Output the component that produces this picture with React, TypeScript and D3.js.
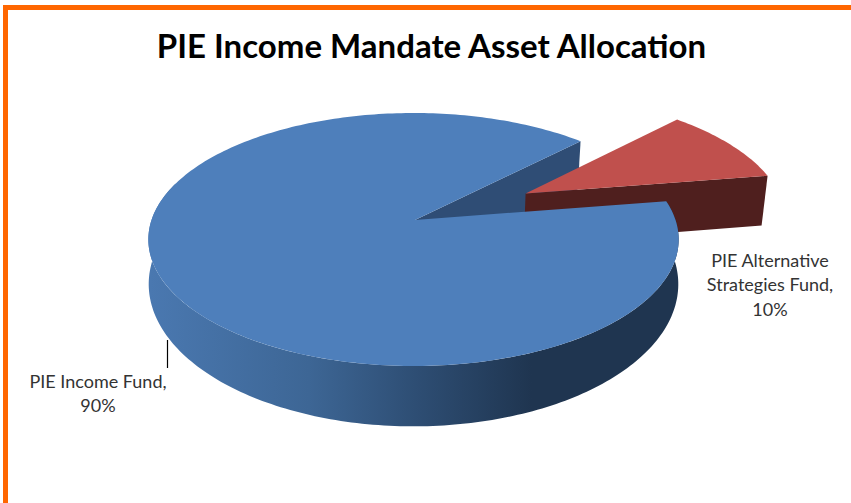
import * as d3 from "d3";

const categories = ["PIE Alternative Strategies Fund", "PIE Income Fund"];
const values = [10, 90];
const explode = [0.49, 0];
const title = "PIE Income Mandate Asset Allocation";

const width = 851;
const height = 503;
const font = "Lato, 'Open Sans', sans-serif";

// planes of the pie, fitted by eye to the picture
const cx = 415;
const R = 262;
const rimShift = -1.5; // the big slice's rim sits a bit left of its apex
const topPlane = { y0: 220, b: 89.6, s: 1, k: 0.154 };
// underside seen on the radial cut faces
const cutPlane = { y0: 272, b: 88, s: 0.983, k: 0.154 };
// underside seen along the round outer wall
const rimPlane = { y0: 279, b: 132, s: 1.01, k: 0.036 };
type Plane = typeof topPlane;
type Pt = [number, number];

const project = (plane: Plane, u: number, v: number): Pt => {
  const d = 1 - plane.k * v;
  return [cx + (R * plane.s * u) / d, (plane.y0 + plane.b * v) / d];
};

// angle 0 is at the back of the pie, going clockwise like d3.pie
const pie = d3
  .pie<number>()
  .value((d) => d)
  .sort(null)
  .startAngle(Math.PI / 4)
  .endAngle(Math.PI / 4 + 2 * Math.PI);

const arcs = pie(values);
const line = d3.line();

function offset(i: number): [number, number] {
  const b = (arcs[i].startAngle + arcs[i].endAngle) / 2;
  return [explode[i] * Math.sin(b), -explode[i] * Math.cos(b)];
}

function at(plane: Plane, i: number, a: number): Pt {
  const [ox, oy] = offset(i);
  const [x, y] = project(plane, ox + Math.sin(a), oy - Math.cos(a));
  return [explode[i] ? x : x + rimShift, y];
}

function pts(plane: Plane, i: number, a0: number, a1: number): Pt[] {
  const n = Math.max(2, Math.ceil((a1 - a0) / 0.02));
  return d3.range(n + 1).map((j) => at(plane, i, a0 + ((a1 - a0) * j) / n));
}

function apex(plane: Plane, i: number): Pt {
  const [ox, oy] = offset(i);
  return project(plane, ox, oy);
}

export default function App() {
  const alt = arcs[0];
  const inc = arcs[1];

  const altTop = [apex(topPlane, 0), ...pts(topPlane, 0, alt.startAngle, alt.endAngle)];
  const altWall: Pt[] = [
    apex(topPlane, 0),
    at(topPlane, 0, alt.endAngle),
    at(cutPlane, 0, alt.endAngle),
    apex(cutPlane, 0),
  ];

  const incTop = [apex(topPlane, 1), ...pts(topPlane, 1, inc.startAngle, inc.endAngle)];
  const incWall: Pt[] = [
    apex(topPlane, 1),
    at(topPlane, 1, inc.endAngle),
    at(cutPlane, 1, inc.endAngle),
    apex(cutPlane, 1),
  ];

  const sideEnd = inc.startAngle + Math.PI * 1.15;
  const incSide: Pt[] = [
    ...pts(topPlane, 1, inc.startAngle, sideEnd),
    ...pts(rimPlane, 1, inc.startAngle, sideEnd).reverse(),
  ];

  return (
    <svg
      width={width}
      height={height}
      style={{ position: "absolute", left: 0, top: 0, background: "#fff" }}
    >
      <defs>
        <linearGradient id="side" gradientUnits="userSpaceOnUse" x1={150} x2={680} y1={0} y2={0}>
          <stop offset="0" stopColor="#4a78b0" />
          <stop offset="0.3" stopColor="#3d6695" />
          <stop offset="0.5" stopColor="#2e4e74" />
          <stop offset="0.72" stopColor="#1f3550" />
          <stop offset="1" stopColor="#1f3550" />
        </linearGradient>
      </defs>

      {/* orange frame, no bottom or right side */}
      <path d={`M5.5,${height}V7.5H${width}`} fill="none" stroke="#ff6600" strokeWidth={5} />

      <text
        x={431.5}
        y={58}
        textAnchor="middle"
        fontFamily={font}
        fontWeight={700}
        fontSize={33}
        fill="#000"
      >
        {title}
      </text>

      <path d={line(incWall)! + "Z"} fill="#2f4d75" />
      <path d={line(altWall)! + "Z"} fill="#4f1f1e" />
      <path d={line(altTop)! + "Z"} fill="#c0504d" />
      <path d={line(incSide)! + "Z"} fill="url(#side)" />
      <path d={line(incTop)! + "Z"} fill="#4e7fbb" />

      <line x1={167.5} x2={167.5} y1={340} y2={368} stroke="#000" strokeWidth={1.2} />

      <g fontFamily={font} fontSize={18} fill="#333" textAnchor="middle">
        <text x={98} y={388}>{categories[1] + ","}</text>
        <text x={98} y={412}>{values[1] + "%"}</text>
        <text x={770} y={267}>PIE Alternative</text>
        <text x={770} y={291}>Strategies Fund,</text>
        <text x={770} y={316}>{values[0] + "%"}</text>
      </g>
    </svg>
  );
}
